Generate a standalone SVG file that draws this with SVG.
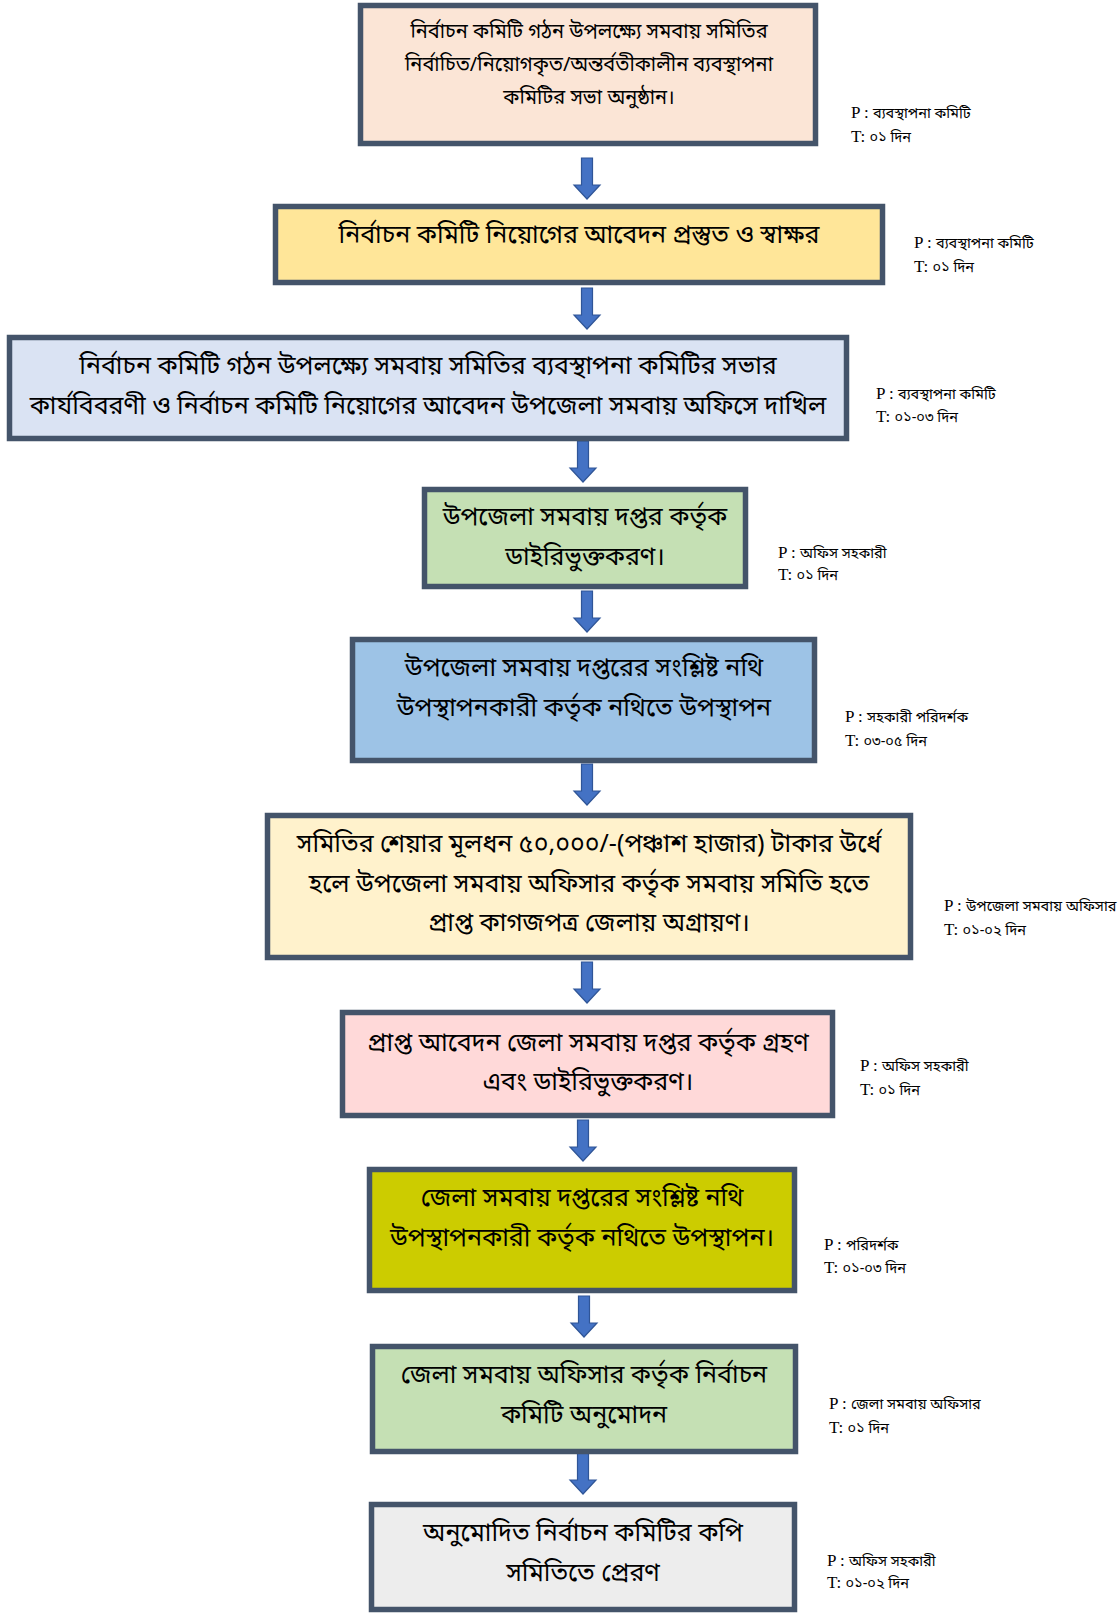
<svg xmlns="http://www.w3.org/2000/svg" width="1120" height="1614" viewBox="0 0 1120 1614">
<defs>
<style>
.box{stroke:#44546A;stroke-width:5.5}
.t{font-family:"Noto Sans Bengali","Noto Serif Bengali","Lohit Bengali","Vrinda","Noto Sans",sans-serif;font-size:25px;fill:#000;text-anchor:middle}
.t1{font-size:20px}
.s{font-family:"Liberation Serif","Noto Sans Bengali","Noto Serif Bengali","Lohit Bengali",serif;font-size:17px;fill:#000}
.sb{font-family:"Noto Sans Bengali","Noto Serif Bengali","Lohit Bengali","Noto Sans",sans-serif;font-size:14.5px}
.arr{fill:#4472C4;stroke:#2F5597;stroke-width:1.2}
</style>
<path id="ar" d="M-5.5,0 H5.5 V27 H13 L0,41 L-13,27 H-5.5 Z"/>
</defs>
<rect width="1120" height="1614" fill="#fff"/>

<g id="connectors">
<use href="#ar" class="arr" x="587" y="158"/>
<use href="#ar" class="arr" x="587" y="288"/>
<use href="#ar" class="arr" x="583" y="441"/>
<use href="#ar" class="arr" x="587" y="591"/>
<use href="#ar" class="arr" x="587" y="764"/>
<use href="#ar" class="arr" x="587" y="962"/>
<use href="#ar" class="arr" x="583" y="1120"/>
<use href="#ar" class="arr" x="584" y="1296"/>
<use href="#ar" class="arr" x="583" y="1453"/>
</g>

<g id="n1">
<rect class="box" x="360.5" y="5.5" width="455" height="138" fill="#FBE5D6"/>
<text class="t t1" x="589" y="38">নির্বাচন কমিটি গঠন উপলক্ষ্যে সমবায় সমিতির</text>
<text class="t t1" x="589" y="71">নির্বাচিত/নিয়োগকৃত/অন্তর্বতীকালীন ব্যবস্থাপনা</text>
<text class="t t1" x="589" y="104">কমিটির সভা অনুষ্ঠান।</text>
</g>
<g id="p1"><text class="s" x="851" y="118">P : <tspan class="sb">ব্যবস্থাপনা কমিটি</tspan></text><text class="s" x="851" y="142">T: <tspan class="sb">০১ দিন</tspan></text></g>

<g id="n2">
<rect class="box" x="275.5" y="206.5" width="607" height="76" fill="#FFE699"/>
<text class="t" x="579" y="243">নির্বাচন কমিটি নিয়োগের আবেদন প্রস্তুত ও স্বাক্ষর</text>
</g>
<g id="p2"><text class="s" x="914" y="248">P : <tspan class="sb">ব্যবস্থাপনা কমিটি</tspan></text><text class="s" x="914" y="272">T: <tspan class="sb">০১ দিন</tspan></text></g>

<g id="n3">
<rect class="box" x="9.5" y="337.5" width="837" height="101" fill="#DAE3F3"/>
<text class="t" x="428" y="374">নির্বাচন কমিটি গঠন উপলক্ষ্যে সমবায় সমিতির ব্যবস্থাপনা কমিটির সভার</text>
<text class="t" x="428" y="414">কার্যবিবরণী ও নির্বাচন কমিটি নিয়োগের আবেদন উপজেলা সমবায় অফিসে দাখিল</text>
</g>
<g id="p3"><text class="s" x="876" y="399">P : <tspan class="sb">ব্যবস্থাপনা কমিটি</tspan></text><text class="s" x="876" y="422">T: <tspan class="sb">০১-০৩ দিন</tspan></text></g>

<g id="n4">
<rect class="box" x="424.5" y="489.5" width="321" height="97" fill="#C5E0B4"/>
<text class="t" x="585" y="525">উপজেলা সমবায় দপ্তর কর্তৃক</text>
<text class="t" x="585" y="565">ডাইরিভুক্তকরণ।</text>
</g>
<g id="p4"><text class="s" x="778" y="558">P : <tspan class="sb">অফিস সহকারী</tspan></text><text class="s" x="778" y="580">T: <tspan class="sb">০১ দিন</tspan></text></g>

<g id="n5">
<rect class="box" x="352.5" y="639.5" width="462" height="121" fill="#9DC3E6"/>
<text class="t" x="584" y="676">উপজেলা সমবায় দপ্তরের সংশ্লিষ্ট নথি</text>
<text class="t" x="584" y="716">উপস্থাপনকারী কর্তৃক নথিতে উপস্থাপন</text>
</g>
<g id="p5"><text class="s" x="845" y="722">P : <tspan class="sb">সহকারী পরিদর্শক</tspan></text><text class="s" x="845" y="746">T: <tspan class="sb">০৩-০৫ দিন</tspan></text></g>

<g id="n6">
<rect class="box" x="267.5" y="815.5" width="643" height="142" fill="#FFF2CC"/>
<text class="t" x="589" y="852">সমিতির শেয়ার মূলধন ৫০,০০০/-(পঞ্চাশ হাজার) টাকার উর্ধে</text>
<text class="t" x="589" y="892">হলে উপজেলা সমবায় অফিসার কর্তৃক সমবায় সমিতি হতে</text>
<text class="t" x="589" y="931">প্রাপ্ত কাগজপত্র জেলায় অগ্রায়ণ।</text>
</g>
<g id="p6"><text class="s" x="944" y="911">P : <tspan class="sb">উপজেলা সমবায় অফিসার</tspan></text><text class="s" x="944" y="935">T: <tspan class="sb">০১-০২ দিন</tspan></text></g>

<g id="n7">
<rect class="box" x="342.5" y="1012.5" width="490" height="103" fill="#FFD9D9"/>
<text class="t" x="588" y="1051">প্রাপ্ত আবেদন জেলা সমবায় দপ্তর কর্তৃক গ্রহণ</text>
<text class="t" x="588" y="1090">এবং ডাইরিভুক্তকরণ।</text>
</g>
<g id="p7"><text class="s" x="860" y="1071">P : <tspan class="sb">অফিস সহকারী</tspan></text><text class="s" x="860" y="1095">T: <tspan class="sb">০১ দিন</tspan></text></g>

<g id="n8">
<rect class="box" x="369.5" y="1169.5" width="425" height="121" fill="#CCCC00"/>
<text class="t" x="582" y="1206">জেলা সমবায় দপ্তরের সংশ্লিষ্ট নথি</text>
<text class="t" x="582" y="1246">উপস্থাপনকারী কর্তৃক নথিতে উপস্থাপন।</text>
</g>
<g id="p8"><text class="s" x="824" y="1250">P : <tspan class="sb">পরিদর্শক</tspan></text><text class="s" x="824" y="1273">T: <tspan class="sb">০১-০৩ দিন</tspan></text></g>

<g id="n9">
<rect class="box" x="372.5" y="1346.5" width="423" height="105" fill="#C5E0B4"/>
<text class="t" x="584" y="1383">জেলা সমবায় অফিসার কর্তৃক নির্বাচন</text>
<text class="t" x="584" y="1423">কমিটি অনুমোদন</text>
</g>
<g id="p9"><text class="s" x="829" y="1409">P : <tspan class="sb">জেলা সমবায় অফিসার</tspan></text><text class="s" x="829" y="1433">T: <tspan class="sb">০১ দিন</tspan></text></g>

<g id="n10">
<rect class="box" x="371.5" y="1504.5" width="423" height="105" fill="#EDEDED"/>
<text class="t" x="583" y="1541">অনুমোদিত নির্বাচন কমিটির কপি</text>
<text class="t" x="583" y="1581">সমিতিতে প্রেরণ</text>
</g>
<g id="p10"><text class="s" x="827" y="1566">P : <tspan class="sb">অফিস সহকারী</tspan></text><text class="s" x="827" y="1588">T: <tspan class="sb">০১-০২ দিন</tspan></text></g>
</svg>
